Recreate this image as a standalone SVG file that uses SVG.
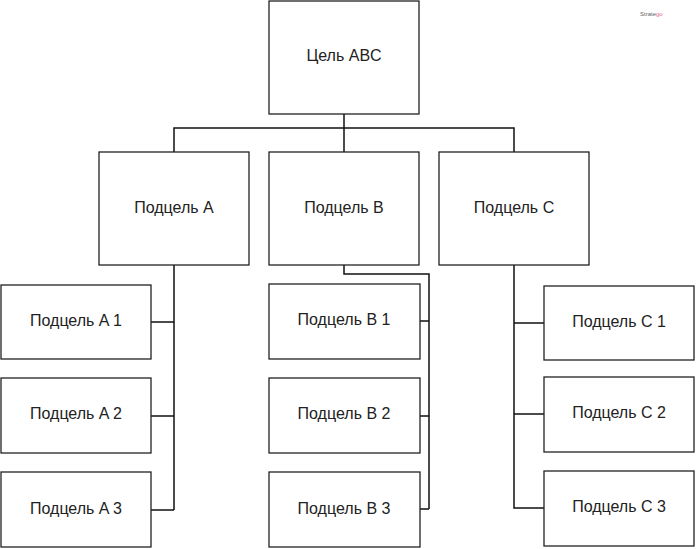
<svg xmlns="http://www.w3.org/2000/svg" width="696" height="549" viewBox="0 0 696 549">
<style>
.box{fill:#fff;stroke:#222;stroke-width:1.3}
.lbl{font-family:"Liberation Sans",Arial,sans-serif;font-size:16px;fill:#222;text-anchor:middle;dominant-baseline:central}
.con{fill:none;stroke:#111;stroke-width:1.5}
</style>
<rect width="696" height="549" fill="#fff"/>
<text x="640" y="16" font-family="Liberation Sans,Arial,sans-serif" font-size="6" fill="#666">Strate<tspan fill="#e06a8a">go</tspan></text>
<g id="connectors">
<path class="con" d="M344,114 V152 M174,152 V128 H514 V152"/>
<path class="con" d="M174,265 V510 M151,322 H174 M151,416 H174 M151,510 H174"/>
<path class="con" d="M344,265 V274 H429 V509 M420,321 H429 M420,416 H429 M420,509 H429"/>
<path class="con" d="M514,265 V508 H544 M514,323 H544 M514,414 H544"/>
</g>
<g id="goal"><rect class="box" x="269" y="1" width="150" height="113"/><text class="lbl" x="344" y="55">Цель ABC</text></g>
<g id="subA"><rect class="box" x="99" y="152" width="150" height="113"/><text class="lbl" x="174" y="207">Подцель A</text></g>
<g id="subB"><rect class="box" x="269" y="152" width="150" height="113"/><text class="lbl" x="344" y="207">Подцель B</text></g>
<g id="subC"><rect class="box" x="439" y="152" width="150" height="113"/><text class="lbl" x="514" y="207">Подцель C</text></g>
<g id="A1"><rect class="box" x="1" y="285" width="150" height="74"/><text class="lbl" x="76" y="320">Подцель A 1</text></g>
<g id="A2"><rect class="box" x="1" y="378" width="150" height="75"/><text class="lbl" x="76" y="413">Подцель A 2</text></g>
<g id="A3"><rect class="box" x="1" y="472" width="150" height="75"/><text class="lbl" x="76" y="508">Подцель A 3</text></g>
<g id="B1"><rect class="box" x="269" y="284" width="151" height="75"/><text class="lbl" x="344" y="319">Подцель B 1</text></g>
<g id="B2"><rect class="box" x="269" y="378" width="151" height="75"/><text class="lbl" x="344" y="413">Подцель B 2</text></g>
<g id="B3"><rect class="box" x="269" y="472" width="151" height="75"/><text class="lbl" x="344" y="508">Подцель B 3</text></g>
<g id="C1"><rect class="box" x="544" y="286" width="150" height="74"/><text class="lbl" x="619" y="321">Подцель C 1</text></g>
<g id="C2"><rect class="box" x="544" y="377" width="150" height="75"/><text class="lbl" x="619" y="412">Подцель C 2</text></g>
<g id="C3"><rect class="box" x="544" y="471" width="150" height="75"/><text class="lbl" x="619" y="506">Подцель C 3</text></g>
</svg>
